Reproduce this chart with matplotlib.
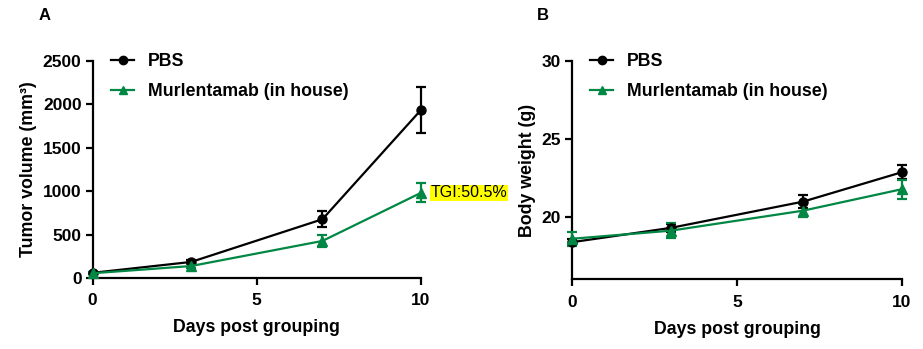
import matplotlib
matplotlib.use("Agg")
import matplotlib.pyplot as plt
from matplotlib.lines import Line2D

plt.rcParams['font.family'] = ['Liberation Sans', 'DejaVu Sans']

days = [0, 3, 7, 10]
series_names = ["PBS", "Murlentamab (in house)"]

tumor_pbs = [60, 185, 677, 1935]
tumor_pbs_err = [15, 25, 90, 265]
tumor_mur = [55, 138, 427, 981]
tumor_mur_err = [12, 25, 70, 110]

bw_pbs = [18.38, 19.3, 20.98, 22.87]
bw_pbs_err = [0.2, 0.25, 0.4, 0.45]
bw_mur = [18.6, 19.12, 20.4, 21.78]
bw_mur_err = [0.45, 0.5, 0.4, 0.6]

tgi_text = "TGI:50.5%"

BLACK = "#000000"
GREEN = "#008744"

fig = plt.figure(figsize=(9.23, 3.49), dpi=100)
axA = fig.add_axes([0.1004, 0.2034, 0.3556, 0.6218])
axB = fig.add_axes([0.6197, 0.1997, 0.3575, 0.6255])

def style(ax):
    for s in ['top', 'right']:
        ax.spines[s].set_visible(False)
    for s in ['left', 'bottom']:
        ax.spines[s].set_linewidth(1.6)
    ax.tick_params(width=1.6, length=5, labelsize=12.5, pad=3)
    ax.tick_params(axis='x', pad=6)
    for lab in ax.get_xticklabels() + ax.get_yticklabels():
        lab.set_fontweight('bold')

def plot_series(ax, y, e, color, marker, label):
    ax.errorbar(days, y, yerr=e, color=color, marker=marker, markersize=6.5,
                linewidth=1.6, elinewidth=1.6, capsize=3.5, capthick=1.6,
                label=label, clip_on=False, zorder=3)

plot_series(axA, tumor_pbs, tumor_pbs_err, BLACK, 'o', series_names[0])
plot_series(axA, tumor_mur, tumor_mur_err, GREEN, '^', series_names[1])
axA.set_xlim(0, 10)
axA.set_ylim(0, 2500)
axA.set_xticks([0, 5, 10])
axA.set_yticks([0, 500, 1000, 1500, 2000, 2500])
axA.set_xlabel("Days post grouping", fontsize=12.8, fontweight='bold', labelpad=8)
axA.set_ylabel("Tumor volume (mm³)", fontsize=12.8, fontweight='bold', labelpad=4)
style(axA)
axA.annotate(tgi_text, xy=(days[-1], tumor_mur[-1]), xytext=(10, 0),
             textcoords='offset pixels', ha='left', va='center', fontsize=11.5,
             bbox=dict(boxstyle='square,pad=0.05', facecolor='#FFFF00', edgecolor='none'),
             annotation_clip=False)

plot_series(axB, bw_pbs, bw_pbs_err, BLACK, 'o', series_names[0])
plot_series(axB, bw_mur, bw_mur_err, GREEN, '^', series_names[1])
axB.set_xlim(0, 10)
axB.set_ylim(16, 30)
axB.set_xticks([0, 5, 10])
axB.set_yticks([20, 25, 30])
axB.set_xlabel("Days post grouping", fontsize=12.8, fontweight='bold', labelpad=8)
axB.set_ylabel("Body weight (g)", fontsize=12.8, fontweight='bold', labelpad=4)
style(axB)

handles = [Line2D([], [], color=BLACK, marker='o', markersize=6, linewidth=1.6),
           Line2D([], [], color=GREEN, marker='^', markersize=6, linewidth=1.6)]

for ax, lx in [(axA, 111 / 923), (axB, 590 / 923)]:
    ax.legend(handles, series_names, loc='upper left', bbox_to_anchor=(lx, 1 - 53 / 349),
              bbox_transform=fig.transFigure, frameon=False, borderpad=0,
              borderaxespad=0, handlelength=1.3, handletextpad=0.8,
              labelspacing=0.72, prop={'size': 12.8, 'weight': 'bold'})

fig.text(45 / 923, 1 - 16 / 349, "A", fontsize=12, fontweight='bold', ha='center', va='center')
fig.text(543 / 923, 1 - 16 / 349, "B", fontsize=12, fontweight='bold', ha='center', va='center')

fig.savefig("out.png", dpi=100)
